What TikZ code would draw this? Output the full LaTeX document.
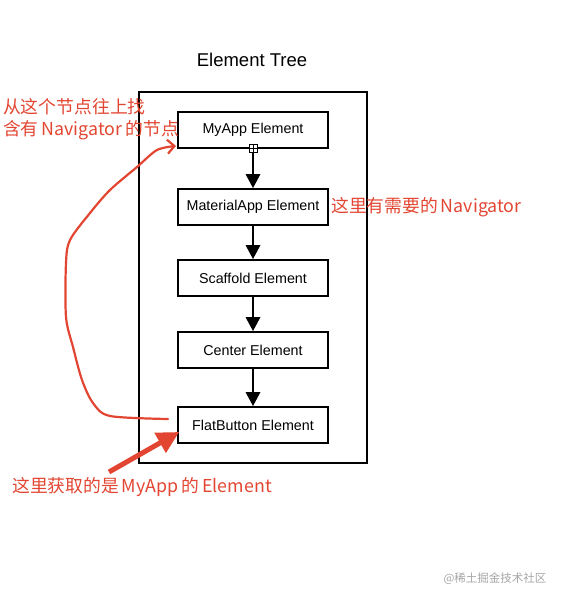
\documentclass[tikz,border=0pt]{standalone}
\usepackage{fontspec}
\setmainfont{Noto Sans CJK SC}
\newfontfamily\labelfont{Liberation Sans}
\usetikzlibrary{arrows.meta}
\definecolor{notered}{RGB}{226,70,50}
\newcommand{\gap}{\hspace{3pt}}
\tikzset{
  elem/.style={draw, line width=1.6pt, minimum width=150pt, minimum height=36pt, font=\labelfont\fontsize{14.3}{16}\selectfont},
  link/.style={line width=2.8pt, -{Triangle[length=14pt,width=14pt]}},
  note/.style={text=notered, font=\fontsize{17.8}{22}\selectfont, inner sep=0pt}
}
\begin{document}
\begin{tikzpicture}[x=1pt, y=-1pt]
  \useasboundingbox (0,0) rectangle (564,602);
  \draw[line width=1.6pt] (139,92) rectangle (367,463);
  \node[font=\labelfont\fontsize{18.5}{21}\selectfont] (title) at (252,60) {Element Tree};
  \node[elem] (myapp) at (253,130) {MyApp Element};
  \node[elem] (material) at (253,207) {MaterialApp Element};
  \node[elem] (scaffold) at (253,278) {Scaffold Element};
  \node[elem] (center) at (253,350) {Center Element};
  \node[elem] (flat) at (253,425) {FlatButton Element};
  \draw[link] (myapp) -- (material); \draw[link] (material) -- (scaffold);
  \draw[link] (scaffold) -- (center); \draw[link] (center) -- (flat);
  \node[draw, fill=white, line width=0.8pt, minimum size=8pt, inner sep=0pt] (hdl) at (myapp.south) {};
  \draw[line width=0.8pt] (hdl.north) -- (hdl.south) (hdl.west) -- (hdl.east);
  % notes in red
  \node[note, anchor=west, align=left] (up) at (3,119) {从这个节点往上找\\含有\gap Navigator\gap 的节点};
  \node[note, anchor=west] (here) at (331,207) {这里有需要的\gap Navigator};
  \node[note, anchor=west] (got) at (12,487) {这里获取的是\gap MyApp\gap 的\gap Element};
  \node[text=gray!70, font=\fontsize{11.5}{13}\selectfont, anchor=west] (mark) at (440,579) {@稀土掘金技术社区};
  \draw[notered, line width=2.2pt, line cap=round, -{Straight Barb[length=7pt,width=14pt]}]
    ([xshift=-10pt,yshift=-5pt]flat.west) plot[smooth] coordinates {(168,419) (110,416) (93,403) (82,380) (73,347) (66,317) (66,263) (70,240) (90,213) (110,190) (137,167) (157,150) (176,146)};
  \coordinate (tail) at (109,472);
  \draw[notered, line width=5pt, -{Triangle[length=22pt,width=22pt]}] (tail) -- ([xshift=2pt,yshift=-7pt]flat.west);
\end{tikzpicture}
\end{document}
